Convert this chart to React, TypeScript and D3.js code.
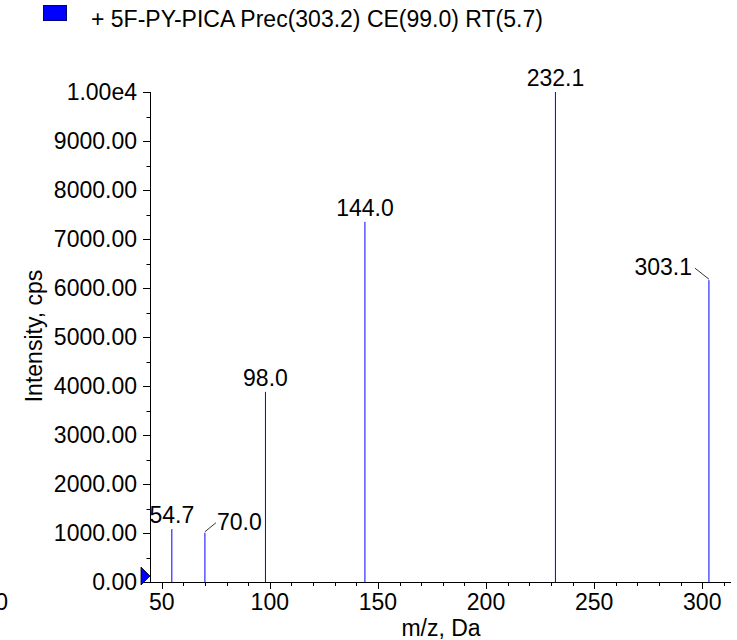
import { useEffect, useRef } from "react";
import * as d3 from "d3";

// peak list
const peakMz = [54.7, 70.0, 98.0, 144.0, 232.1, 303.1];
const peakIntensity = [1080, 1005, 3880, 7350, 10000, 6160];
const peakLabels = ["54.7", "70.0", "98.0", "144.0", "232.1", "303.1"];

const yTickValues = [0, 1000, 2000, 3000, 4000, 5000, 6000, 7000, 8000, 9000, 10000];
const yTickLabels = ["0.00", "1000.00", "2000.00", "3000.00", "4000.00", "5000.00", "6000.00", "7000.00", "8000.00", "9000.00", "1.00e4"];
const xTickValues = [50, 100, 150, 200, 250, 300];

const legendText = "+ 5F-PY-PICA Prec(303.2) CE(99.0) RT(5.7)";

const W = 737;
const H = 640;
const FONT = "'Liberation Sans', Arial, sans-serif";

export default function App() {
  const svgRef = useRef<SVGSVGElement | null>(null);

  useEffect(() => {
    if (!svgRef.current) return;
    const svg = d3.select(svgRef.current);
    svg.selectAll("*").remove();

    const x = d3.scaleLinear().domain([44.6, 313.3]).range([150, 731]);
    const y = d3.scaleLinear().domain([0, 10000]).range([582, 92]);

    const g = svg.append("g").style("font-family", FONT).style("font-size", "23px");

    // legend
    g.append("rect")
      .attr("x", 43.5).attr("y", 5.5).attr("width", 23).attr("height", 15)
      .attr("fill", "#0000ff").attr("stroke", "#000080").attr("stroke-width", 1);
    g.append("text").attr("x", 91).attr("y", 27).attr("fill", "#000").text(legendText);

    // y axis
    const yAxis = g.append("g");
    yAxis.append("line")
      .attr("x1", 150.5).attr("x2", 150.5)
      .attr("y1", y(10000)).attr("y2", y(0))
      .attr("stroke", "#000");
    d3.range(0, 10001, 500).forEach((v) => {
      const major = v % 1000 === 0;
      yAxis.append("line")
        .attr("x1", major ? 143 : 146.5).attr("x2", 150.5)
        .attr("y1", Math.round(y(v)) + 0.5).attr("y2", Math.round(y(v)) + 0.5)
        .attr("stroke", "#000");
    });
    yAxis.selectAll("text.ytick")
      .data(yTickValues)
      .enter()
      .append("text")
      .attr("class", "ytick")
      .attr("x", 137)
      .attr("y", (d) => y(d) + 8)
      .attr("text-anchor", "end")
      .text((_d, i) => yTickLabels[i]);

    g.append("text")
      .attr("transform", "translate(42,336) rotate(-90)")
      .attr("text-anchor", "middle")
      .text("Intensity, cps");

    // x axis
    const xAxis = g.append("g");
    xAxis.append("line")
      .attr("x1", 150).attr("x2", 731)
      .attr("y1", 582.5).attr("y2", 582.5)
      .attr("stroke", "#000");
    d3.range(50, 311, 10).forEach((v) => {
      const major = v % 50 === 0;
      xAxis.append("line")
        .attr("x1", Math.round(x(v)) + 0.5).attr("x2", Math.round(x(v)) + 0.5)
        .attr("y1", 582.5).attr("y2", major ? 589 : 586)
        .attr("stroke", "#000");
    });
    xAxis.selectAll("text.xtick")
      .data(xTickValues)
      .enter()
      .append("text")
      .attr("class", "xtick")
      .attr("x", (d) => x(d))
      .attr("y", 610)
      .attr("text-anchor", "middle")
      .text((d) => String(d));
    // clipped label at the far left edge of the original export
    g.append("text").attr("x", 8).attr("y", 610).attr("text-anchor", "end").text("0");

    g.append("text")
      .attr("x", 441).attr("y", 636)
      .attr("text-anchor", "middle")
      .text("m/z, Da");

    // marker on the y axis
    g.append("path")
      .attr("d", `M141,${y(0) - 15} L141,${y(0) + 3} L150,${y(0) - 6} Z`)
      .attr("fill", "#0000ff").attr("stroke", "#000").attr("stroke-width", 0.8);

    // stems
    g.selectAll("line.stem")
      .data(peakMz)
      .enter()
      .append("line")
      .attr("class", "stem")
      .attr("x1", (d) => x(d)).attr("x2", (d) => x(d))
      .attr("y1", y(0)).attr("y2", (_d, i) => y(peakIntensity[i]))
      .attr("stroke", "#0000ff").attr("stroke-width", 1);

    // peak labels; 70.0 and 303.1 are pushed aside with a leader line
    const labelShift: Record<string, { dx: number; dy: number; anchor: string }> = {
      "70.0": { dx: 12, dy: -3, anchor: "start" },
      "303.1": { dx: -17, dy: -5, anchor: "end" },
    };
    peakMz.forEach((mz, i) => {
      const px = x(mz);
      const py = y(peakIntensity[i]);
      const shift = labelShift[peakLabels[i]];
      if (shift) {
        g.append("text")
          .attr("x", px + shift.dx).attr("y", py + shift.dy)
          .attr("text-anchor", shift.anchor)
          .text(peakLabels[i]);
        const lx = shift.anchor === "start" ? px + shift.dx - 1 : px + shift.dx + 3;
        g.append("line")
          .attr("x1", px).attr("y1", py - 1)
          .attr("x2", lx).attr("y2", py + shift.dy - 7)
          .attr("stroke", "#000").attr("stroke-width", 0.8);
      } else {
        g.append("text")
          .attr("x", px).attr("y", py - 6)
          .attr("text-anchor", "middle")
          .text(peakLabels[i]);
      }
    });
  }, []);

  return (
    <svg
      ref={svgRef}
      width={W}
      height={H}
      style={{ position: "absolute", left: 0, top: 0, background: "#fff" }}
    />
  );
}
